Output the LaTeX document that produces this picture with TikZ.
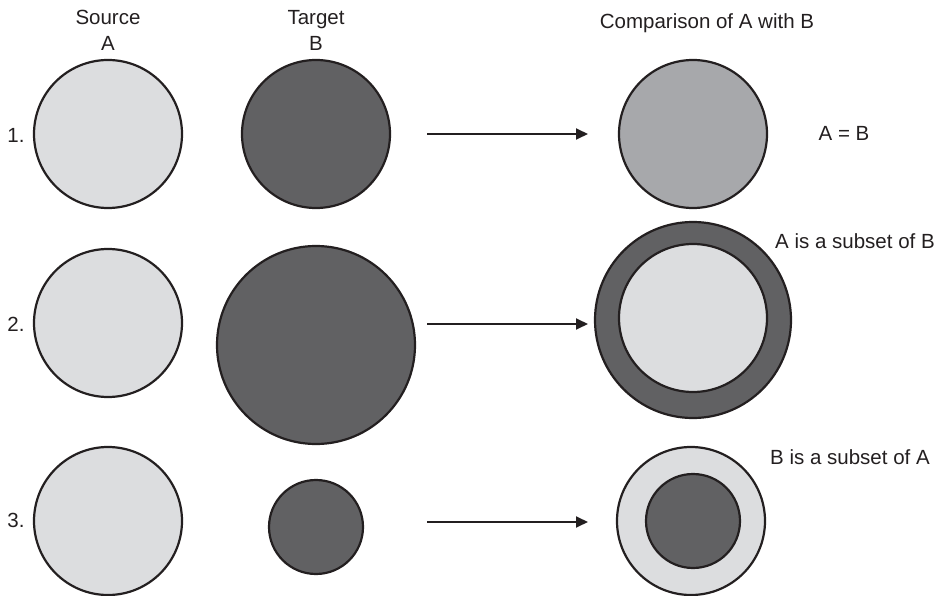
\documentclass[tikz,border=0pt]{standalone}
\usepackage{fontspec}
\setmainfont{Liberation Sans}
\usetikzlibrary{arrows.meta}
\definecolor{setlight}{HTML}{DCDDDF}
\definecolor{setdark}{HTML}{616163}
\definecolor{setmid}{HTML}{A7A8AB}
\definecolor{inkline}{HTML}{231F20}

\begin{document}
\begin{tikzpicture}[x=1pt, y=-1pt,
    setA/.style={circle, draw=inkline, line width=2.2pt, fill=setlight,
                 inner sep=0pt, minimum size=148pt},
    setB/.style={setA, fill=setdark},
    lbl/.style={font=\fontsize{20.5}{26}\selectfont, text=inkline,
                align=center, inner sep=0pt},
    maps/.style={-{Triangle[length=12pt, width=11pt]}, line width=1.8pt, draw=inkline}]
    \useasboundingbox (0,0) rectangle (940,596);

    % headings
    \node[lbl] (hsrc) at (108,30) {Source\\A};
    \node[lbl] (htgt) at (316,30) {Target\\B};
    \node[lbl] (hcmp) at (707,23) {Comparison of A with B};

    % row 1: equal sets
    \node[lbl] (n1) at (16,135) {1.};
    \node[setA] (src1) at (108,134) {};
    \node[setB] (tgt1) at (316,134) {};
    \node[setA, fill=setmid] (cmp1) at (693,134) {};
    \coordinate (s1) at (427,134);
    \coordinate (e1) at (588,134);
    \draw[maps] (s1) -- (e1);
    \node[lbl] (r1) at (844,133) {A = B};

    % row 2: A inside B
    \node[lbl] (n2) at (16,324) {2.};
    \node[setA] (src2) at (108,323) {};
    \node[setB, minimum size=198pt] (tgt2) at (316,345) {};
    \node[setB, minimum size=196pt] (cmp2) at (693,320) {};
    \node[setA] (cmp2in) at (693,318) {};
    \coordinate (s2) at (427,324);
    \coordinate (e2) at (588,324);
    \draw[maps] (s2) -- (e2);
    \node[lbl] (r2) at (855,241) {A is a subset of B};

    % row 3: B inside A
    \node[lbl] (n3) at (16,520) {3.};
    \node[setA] (src3) at (108,521) {};
    \node[setB, minimum size=94pt] (tgt3) at (316,527) {};
    \node[setA] (cmp3) at (691,521) {};
    \node[setB, minimum size=94pt] (cmp3in) at (693,521) {};
    \coordinate (s3) at (427,522);
    \coordinate (e3) at (588,522);
    \draw[maps] (s3) -- (e3);
    \node[lbl] (r3) at (850,457) {B is a subset of A};
\end{tikzpicture}
\end{document}
